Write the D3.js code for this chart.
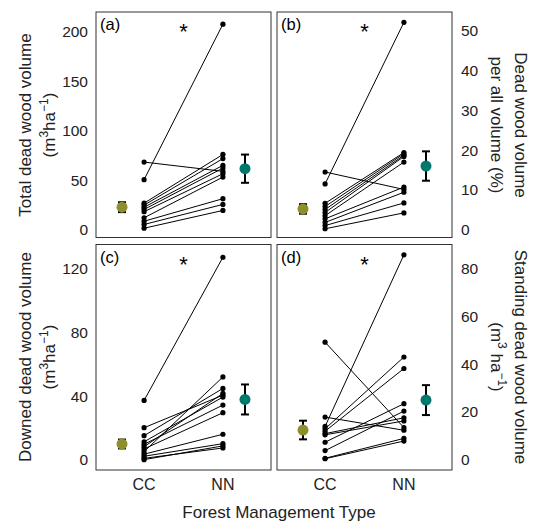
<!DOCTYPE html>
<html><head><meta charset="utf-8">
<script src="https://cdn.jsdelivr.net/npm/d3@7"></script>
<style>body{margin:0;background:#fff}svg{display:block}</style>
</head><body><svg id="c" width="536" height="521"></svg>
<script>
// ---- data ----
const groups = ["CC", "NN"];
const panelLabels = ["(a)", "(b)", "(c)", "(d)"];
const totalCC = [68.3, 50.5, 26.7, 24.7, 22.6, 20.3, 18.0, 11.9, 8.4, 5.1, 1.3];
const totalNN = [58.9, 208, 76, 71.8, 65, 62.2, 56.5, 53.1, 31.2, 25.4, 19.3];
const pctCC = [14.5, 11.5, 6.6, 5.8, 5.05, 4.3, 3.5, 2.7, 1.8, 1.0, 0.2];
const pctNN = [10.1, 52.2, 19.4, 19.1, 18.7, 18.4, 17.0, 10.7, 9.4, 6.7, 4.2];
const downCC = [37.3, 20.2, 15.2, 11.4, 9.8, 8.3, 6.9, 5.2, 3.6, 2.3, 1.0, 0.2];
const downNN = [127, 40.6, 44.8, 39.4, 34.4, 41.7, 29.6, 52, 16.1, 10.2, 7.5, 8.8];
const standCC = [49.2, 17.9, 14.0, 13.0, 12.0, 11.0, 10.5, 7.4, 3.9, 0.7, 0.5];
const standNN = [13.5, 12.4, 85.7, 43, 38.2, 17.6, 16.3, 23.5, 20.4, 9.0, 7.9];
const meanCC = [22.6, 5.2, 10.0, 12.5];
const seCC = [5.0, 1.2, 2.8, 3.9];
const meanNN = [61.6, 16.0, 37.9, 25.0];
const seNN = [14.3, 3.7, 9.4, 6.25];
const ticksA = [0, 50, 100, 150, 200];
const ticksB = [0, 10, 20, 30, 40, 50];
const ticksC = [0, 40, 80, 120];
const ticksD = [0, 20, 40, 60, 80];
const yDomains = [[-8.1, 220.3], [-2.0, 54.8], [-6.3, 135], [-4.2, 90]];

// ---- layout ----
const font = "'Liberation Sans', Arial, sans-serif";
const svg = d3.select("#c");
const W = 175, H = 225.5;
const origins = [[96, 12], [277, 12], [96, 244.5], [277, 244.5]];
const ccs = [totalCC, pctCC, downCC, standCC];
const nns = [totalNN, pctNN, downNN, standNN];
const ticks = [ticksA, ticksB, ticksC, ticksD];
const colCC = "#8e8e2e", colNN = "#00786e";
const x = d3.scaleLinear().domain([0.39, 2.61]).range([0, W]);
const xMeanCC = 0.72, xMeanNN = 2.28;

origins.forEach((o, p) => {
  const g = svg.append("g").attr("transform", `translate(${o[0]},${o[1]})`);
  const y = d3.scaleLinear().domain(yDomains[p]).range([H, 0]);
  g.append("rect").attr("x", 0).attr("y", 0).attr("width", W).attr("height", H)
    .attr("fill", "none").attr("stroke", "#333").attr("stroke-width", 1);
  const cc = ccs[p], nn = nns[p];
  const pairs = cc.map((v, i) => [v, nn[i]]);
  g.selectAll("line.pair").data(pairs).enter().append("line")
    .attr("x1", x(1)).attr("x2", x(2))
    .attr("y1", d => y(d[0])).attr("y2", d => y(d[1]))
    .attr("stroke", "#000").attr("stroke-width", 1);
  g.selectAll("circle.cc").data(cc).enter().append("circle")
    .attr("cx", x(1)).attr("cy", d => y(d)).attr("r", 2.6).attr("fill", "#000");
  g.selectAll("circle.nn").data(nn).enter().append("circle")
    .attr("cx", x(2)).attr("cy", d => y(d)).attr("r", 2.6).attr("fill", "#000");
  // means with error bars
  const means = [[xMeanCC, meanCC[p], seCC[p], colCC], [xMeanNN, meanNN[p], seNN[p], colNN]];
  means.forEach(m => {
    const cx = x(m[0]);
    g.append("line").attr("x1", cx).attr("x2", cx).attr("y1", y(m[1] - m[2])).attr("y2", y(m[1] + m[2]))
      .attr("stroke", "#000").attr("stroke-width", 2);
    [m[1] - m[2], m[1] + m[2]].forEach(v => {
      g.append("line").attr("x1", cx - 4).attr("x2", cx + 4).attr("y1", y(v)).attr("y2", y(v))
        .attr("stroke", "#000").attr("stroke-width", 2);
    });
    g.append("circle").attr("cx", cx).attr("cy", y(m[1])).attr("r", 5.5).attr("fill", m[3]);
  });
  // asterisk
  g.append("text").attr("x", x(1.5)).attr("y", 27).attr("text-anchor", "middle")
    .attr("font-family", font).attr("font-size", 22).text("*");
  // panel label
  g.append("text").attr("x", 4).attr("y", 18).attr("font-family", font).attr("font-size", 16.5).text(panelLabels[p]);
  // tick labels
  const right = p % 2 === 1;
  g.selectAll("text.tick").data(ticks[p]).enter().append("text")
    .attr("x", right ? W + 9 : -8).attr("y", d => y(d)).attr("dy", "0.35em")
    .attr("text-anchor", right ? "start" : "end")
    .attr("font-family", font).attr("font-size", 15.5).attr("fill", "#222").text(d => d);
  // x labels on bottom panels
  if (p >= 2) {
    g.selectAll("text.xl").data(groups).enter().append("text")
      .attr("x", (d, i) => x(i + 1)).attr("y", H + 20).attr("text-anchor", "middle")
      .attr("font-family", font).attr("font-size", 16).attr("fill", "#222").text(d => d);
  }
});

// x title
svg.append("text").attr("x", 279).attr("y", 518).attr("text-anchor", "middle")
  .attr("font-family", font).attr("font-size", 17).attr("fill", "#222").text("Forest Management Type");

function unitLine(t, spaced) {
  t.append("tspan").text("(m");
  t.append("tspan").attr("baseline-shift", "super").attr("font-size", 12).text("3");
  t.append("tspan").text(spaced ? " ha" : "ha");
  t.append("tspan").attr("baseline-shift", "super").attr("font-size", 12).text("\u22121");
  t.append("tspan").text(")");
}
function leftTitle(cy, l1, spaced) {
  svg.append("text").attr("transform", `translate(31,${cy}) rotate(-90)`).attr("text-anchor", "middle")
    .attr("font-family", font).attr("font-size", 17).attr("fill", "#222").text(l1);
  const t = svg.append("text").attr("transform", `translate(55,${cy}) rotate(-90)`).attr("text-anchor", "middle")
    .attr("font-family", font).attr("font-size", 17).attr("fill", "#222");
  unitLine(t, spaced);
}
function rightTitle(cy, l1, l2, spaced) {
  svg.append("text").attr("transform", `translate(515,${cy}) rotate(90)`).attr("text-anchor", "middle")
    .attr("font-family", font).attr("font-size", 17).attr("fill", "#222").text(l1);
  const t = svg.append("text").attr("transform", `translate(491,${cy}) rotate(90)`).attr("text-anchor", "middle")
    .attr("font-family", font).attr("font-size", 17).attr("fill", "#222");
  if (l2) t.text(l2); else unitLine(t, spaced);
}
leftTitle(125, "Total dead wood volume", false);
leftTitle(357, "Downed dead wood volume", false);
rightTitle(125, "Dead wood volume", "per all volume (%)");
rightTitle(357, "Standing dead wood volume", null, true);
</script></body></html>
